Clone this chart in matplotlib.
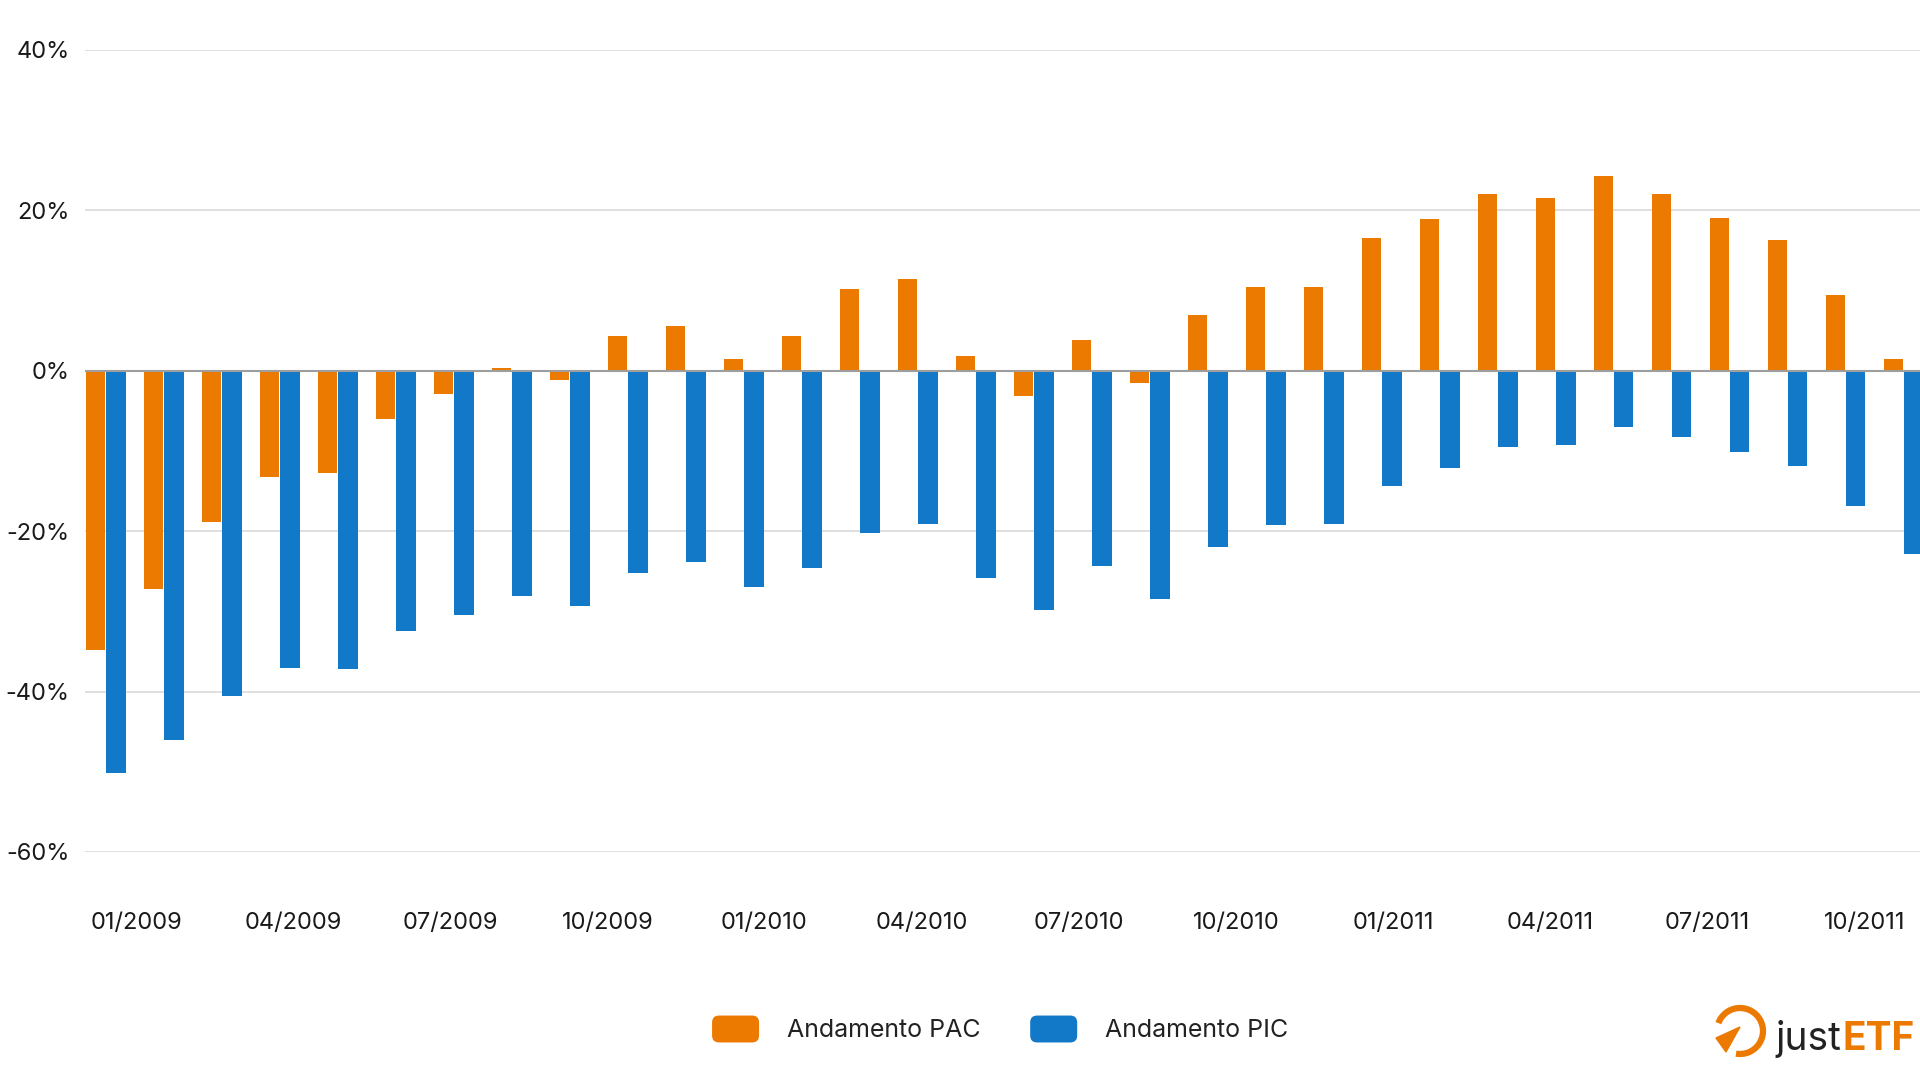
import matplotlib
matplotlib.use("Agg")
import matplotlib.pyplot as plt
from matplotlib.patches import Patch, Arc, Polygon, FancyBboxPatch
from matplotlib.legend_handler import HandlerPatch
import numpy as np

plt.rcParams['font.family'] = ['Inter', 'DejaVu Sans']

# values in percent, one per bar group
pac = [-34.8, -27.2, -18.8, -13.3, -12.8, -6.0, -2.9, 0.3, -1.2, 4.3, 5.6, 1.5,
       4.4, 10.2, 11.5, 1.8, -3.1, 3.8, -1.5, 7.0, 10.5, 10.4, 16.5, 18.9,
       22.1, 21.5, 24.3, 22.0, 19.1, 16.3, 9.5, 1.5]
pic = [-50.2, -46.0, -40.6, -37.1, -37.2, -32.5, -30.5, -28.1, -29.3, -25.2, -23.8, -26.9,
       -24.6, -20.2, -19.1, -25.8, -29.8, -24.4, -28.4, -22.0, -19.2, -19.1, -14.4, -12.1,
       -9.5, -9.3, -7.0, -8.2, -10.1, -11.9, -16.9, -22.9]
date_labels = ["01/2009", "04/2009", "07/2009", "10/2009", "01/2010", "04/2010",
               "07/2010", "10/2010", "01/2011", "04/2011", "07/2011", "10/2011"]
y_ticks = [-60, -40, -20, 0, 20, 40]
series_names = ["Andamento PAC", "Andamento PIC"]

ORANGE = "#EC7A00"
BLUE = "#1278C8"


class RoundHandler(HandlerPatch):
    # rounded legend swatches
    def create_artists(self, legend, orig_handle, xdescent, ydescent, width, height, fontsize, trans):
        p = FancyBboxPatch((-xdescent, -ydescent), width, height,
                           boxstyle="round,pad=0,rounding_size=5",
                           facecolor=orig_handle.get_facecolor(), edgecolor='none', transform=trans)
        return [p]


fig = plt.figure(figsize=(19.2, 10.8), dpi=100)
ax = fig.add_axes([85 / 1920, 228 / 1080, (1920 - 85) / 1920, (852 - 50) / 1080])

x = np.arange(len(pac))
w = 0.33
ax.bar(x - 0.175, pac, width=w, color=ORANGE, zorder=3)
ax.bar(x + 0.175, pic, width=w, color=BLUE, zorder=3)

ax.set_xlim(-0.36, 31.28)
ax.set_ylim(-60, 40)
ax.set_yticks(y_ticks)
ax.set_yticklabels([f"{v}%" for v in y_ticks])
ax.yaxis.grid(True, color="#D9D9D9", linewidth=1.2, zorder=0)
ax.axhline(0, color="#9E9E9E", linewidth=1.5, zorder=4)

# date labels sit on their own scale (every 3 months)
tick_pos = 0.52 + 2.709 * np.arange(len(date_labels))
ax.set_xticks(tick_pos)
ax.set_xticklabels(date_labels)

ax.tick_params(axis='both', length=0, labelsize=17, colors="#1A1A1A")
ax.tick_params(axis='y', pad=11)
ax.tick_params(axis='x', pad=43)
for s in ax.spines.values():
    s.set_visible(False)

handles = [Patch(facecolor=ORANGE, label=series_names[0]),
           Patch(facecolor=BLUE, label=series_names[1])]
fig.legend(handles=handles, loc='center', bbox_to_anchor=(1000 / 1920, 1 - 1029 / 1080),
           ncol=2, frameon=False, fontsize=18, handlelength=1.88, handleheight=1.28,
           handletextpad=1.1, columnspacing=2.0, labelcolor="#222222",
           handler_map={Patch: RoundHandler()})

# justETF logo
ov = fig.add_axes([0, 0, 1, 1], zorder=10)
ov.set_xlim(0, 1920)
ov.set_ylim(1080, 0)
ov.axis('off')
ov.add_patch(Arc((1740, 1031), 46, 46, theta1=-160, theta2=100, color=ORANGE, linewidth=4.5))
ov.add_patch(Polygon([(1716, 1038), (1740, 1027), (1726, 1052)], closed=True, color=ORANGE))

r = fig.canvas.get_renderer()
fs = 32
while True:
    t1 = ov.text(1775, 1050, "just", fontsize=fs, color="#222222", va='baseline', ha='left')
    end1 = t1.get_window_extent(r).x1
    t2 = ov.text(end1 + 2, 1050, "ETF", fontsize=fs, color=ORANGE, fontweight='bold',
                 va='baseline', ha='left')
    if t2.get_window_extent(r).x1 <= 1917 or fs <= 20:
        break
    t1.remove()
    t2.remove()
    fs -= 1

fig.savefig("out.png", dpi=100)
